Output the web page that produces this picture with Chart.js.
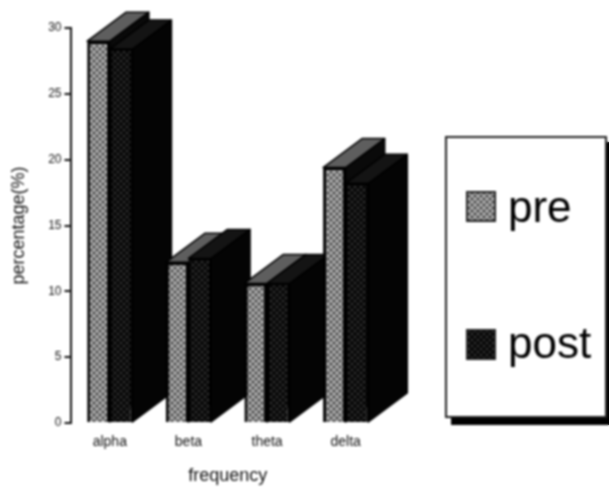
<!DOCTYPE html>
<html>
<head>
<meta charset="utf-8">
<style>
html,body{margin:0;padding:0;background:#fff}
#wrap{width:609px;height:487px;position:relative;overflow:hidden}
canvas{display:block}
</style>
<script src="https://cdn.jsdelivr.net/npm/chart.js@4"></script>
</head>
<body>
<div id="wrap"><canvas id="c" width="609" height="487"></canvas></div>
<script>
const categories = ['alpha', 'beta', 'theta', 'delta'];
const preValues = [29.0, 12.2, 10.6, 19.4];
const postValues = [28.4, 12.5, 10.6, 18.2];
const yTicks = [0, 5, 10, 15, 20, 25, 30];
const seriesNames = ['pre', 'post'];
const xTitle = 'frequency';
const yTitle = 'percentage(%)';

function dots(base, dot, size) {
  const p = document.createElement('canvas');
  p.width = p.height = size;
  const g = p.getContext('2d');
  g.fillStyle = base; g.fillRect(0, 0, size, size);
  g.fillStyle = dot;
  g.fillRect(0, 0, 2, 2);
  g.fillRect(size / 2, size / 2, 2, 2);
  return g.createPattern(p, 'repeat');
}
const ctx0 = document.getElementById('c').getContext('2d');
const preFill = dots('#6c6c6c', '#e0e0e0', 6);
const postFill = dots('#0a0a0a', '#383838', 6);
const DX = 39, DY = -29;

const faces = [
  { top: '#5e5e5e', side: '#0a0a0a' },
  { top: '#141414', side: '#040404' }
];

const bars3d = {
  id: 'bars3d',
  beforeDatasetsDraw(chart) {
    const c = chart.ctx;
    categories.forEach((_, i) => {
      chart.data.datasets.forEach((ds, d) => {
        const el = chart.getDatasetMeta(d).data[i];
        const l = el.x - el.width / 2, r = el.x + el.width / 2, t = el.y, b = el.base;
        c.save();
        c.strokeStyle = '#000'; c.lineWidth = 1.5; c.lineJoin = 'round';
        c.fillStyle = faces[d].side;
        c.beginPath();
        c.moveTo(r, t); c.lineTo(r + DX, t + DY); c.lineTo(r + DX, b + DY); c.lineTo(r, b); c.closePath();
        c.fill(); c.stroke();
        c.fillStyle = faces[d].top;
        c.beginPath();
        c.moveTo(l, t); c.lineTo(l + DX, t + DY); c.lineTo(r + DX, t + DY); c.lineTo(r, t); c.closePath();
        c.fill(); c.stroke();
        c.restore();
        el.draw(c);
      });
    });
    return false;
  }
};

const legendBox = {
  id: 'legendBox',
  afterDraw(chart) {
    const c = chart.ctx;
    c.save();
    c.fillStyle = '#000';
    c.fillRect(451, 142, 158, 283);
    c.fillStyle = '#fff'; c.strokeStyle = '#222'; c.lineWidth = 2;
    c.fillRect(446, 137, 160, 280);
    c.strokeRect(446, 137, 160, 280);
    const rows = [{ y: 192, base: 222 }, { y: 330, base: 358 }];
    c.font = '44px "Liberation Sans", Arial, sans-serif';
    c.textBaseline = 'alphabetic';
    chart.data.datasets.forEach((ds, i) => {
      c.fillStyle = ds.backgroundColor;
      c.fillRect(467, rows[i].y, 28, 29);
      c.strokeStyle = '#222'; c.lineWidth = 2;
      c.strokeRect(467, rows[i].y, 28, 29);
      c.fillStyle = '#000';
      c.fillText(ds.label, 508, rows[i].base);
    });
    c.restore();
  }
};

const soften = {
  id: 'soften',
  afterDraw(chart) {
    const c = chart.ctx, cv = chart.canvas;
    const copy = document.createElement('canvas');
    copy.width = cv.width; copy.height = cv.height;
    const g = copy.getContext('2d');
    g.fillStyle = '#fff'; g.fillRect(0, 0, copy.width, copy.height);
    g.drawImage(cv, 0, 0);
    c.save();
    c.setTransform(1, 0, 0, 1, 0, 0);
    c.filter = 'blur(0.8px)';
    c.drawImage(copy, 0, 0);
    c.restore();
  }
};

new Chart(ctx0, {
  type: 'bar',
  data: {
    labels: categories,
    datasets: [
      { label: seriesNames[0], data: preValues, backgroundColor: preFill, borderColor: '#000', borderWidth: 3 },
      { label: seriesNames[1], data: postValues, backgroundColor: postFill, borderColor: '#000', borderWidth: 2 }
    ]
  },
  options: {
    responsive: false,
    animation: false,
    devicePixelRatio: 1,
    categoryPercentage: 0.575,
    barPercentage: 1,
    layout: { autoPadding: false, padding: { top: 28, right: 224, bottom: 0, left: 0 } },
    plugins: { legend: { display: false }, tooltip: { enabled: false } },
    scales: {
      x: {
        afterFit: s => { s.height = 64; },
        grid: { display: false },
        border: { display: false },
        ticks: { color: '#111', font: { family: 'Liberation Sans', size: 14 }, padding: 3, maxRotation: 0 },
        title: { display: true, text: xTitle, color: '#111', font: { family: 'Liberation Sans', size: 18 }, padding: { top: 15, bottom: 0 } }
      },
      y: {
        min: 0, max: 30,
        afterFit: s => { s.width = 70.5; },
        afterBuildTicks: s => { s.ticks = yTicks.map(v => ({ value: v })); },
        grid: { drawOnChartArea: false, drawTicks: true, tickLength: 6, color: '#111', lineWidth: 2 },
        border: { display: true, color: '#111', width: 2 },
        ticks: { color: '#111', font: { family: 'Liberation Sans', size: 12 }, padding: 3 },
        title: { display: true, text: yTitle, color: '#111', font: { family: 'Liberation Sans', size: 18 }, padding: { top: 8, bottom: 0 } }
      }
    }
  },
  plugins: [bars3d, legendBox, soften]
});
</script>
</body>
</html>
